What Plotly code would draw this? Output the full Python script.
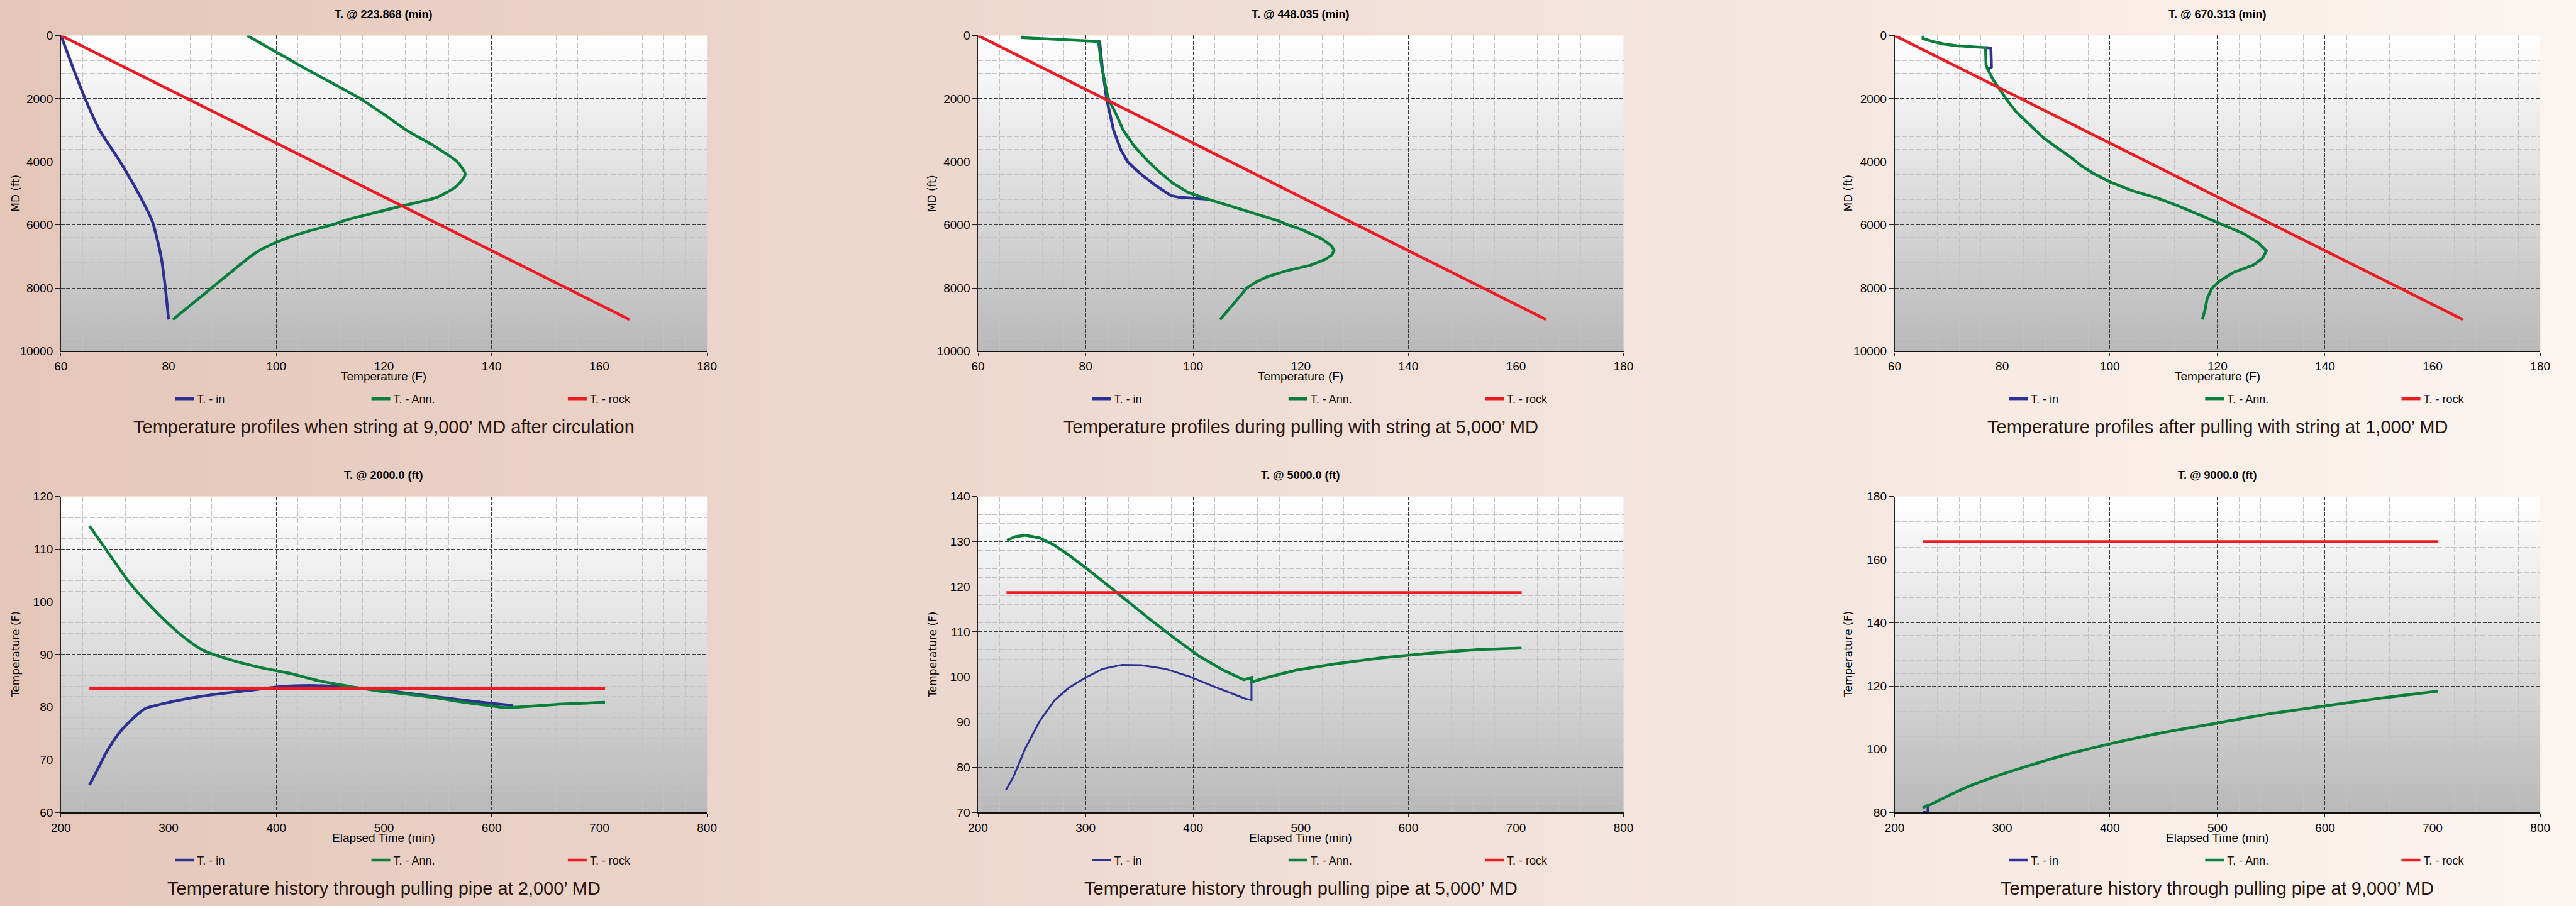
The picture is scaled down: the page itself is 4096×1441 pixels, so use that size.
import base64
import struct
import zlib
import plotly.graph_objects as go

# ---------------------------------------------------------------- data
# Top row: temperature (F) vs measured depth (ft)
P1_MD_IN = [0, 1000, 2000, 3000, 4000, 5000, 5900, 7000, 8000, 9000]
P1_T_IN = [60.0, 62.2, 64.5, 67.2, 71.0, 74.4, 77.0, 78.6, 79.4, 80.0]
P1_MD_ANN = [0, 1000, 2000, 2500, 3000, 3500, 4000, 4400, 4800, 5150, 5370, 5600,
             5830, 6000, 6200, 6400, 6600, 6800, 7000, 8000, 9000]
P1_T_ANN = [94.6, 104.9, 115.6, 120.0, 124.2, 129.3, 133.6, 135.1, 133.3, 129.5, 124.1, 118.7,
            113.3, 110.3, 106.0, 102.3, 99.4, 97.0, 95.2, 88.0, 80.8]

P2_MD_IN = [160, 1000, 2000, 3000, 3600, 4000, 4275, 4450, 4750, 5075, 5125, 5155, 5185]
P2_T_IN = [82.6, 83.1, 83.9, 85.2, 86.5, 87.8, 89.5, 90.7, 93.0, 95.9, 97.4, 100.0, 102.7]
P2_MD_ANN = [0, 70, 190, 1000, 2000, 2500, 3000, 3500, 4000, 4275, 4675, 4975, 5185, 5400,
             5650, 5875, 6000, 6150, 6450, 6650, 6800, 6950, 7100, 7280, 7460, 7650, 7830,
             8010, 8240, 8510, 9000]
P2_T_ANN = [68.3, 68.3, 82.4, 83.0, 84.2, 85.7, 87.0, 89.0, 91.7, 93.4, 96.2, 99.1, 102.7, 106.8,
            111.2, 115.9, 117.6, 120.2, 124.0, 125.6, 126.2, 125.8, 124.5, 121.8, 117.3, 113.7, 111.5,
            109.9, 108.8, 107.4, 105.0]

P3_MD_IN = [385, 395, 1000, 1065]
P3_T_IN = [76.9, 77.9, 78.0, 77.4]
P3_MD_ANN = [0, 100, 200, 275, 325, 365, 385, 925, 1075, 1425, 1650, 2025, 2418, 2873, 3236,
             3509, 3827, 4145, 4373, 4645, 4918, 5145, 5373, 5691, 5964, 6282, 6555, 6827,
             7055, 7282, 7509, 7782, 8009, 8327, 8691, 9000]
P3_T_ANN = [65.3, 65.3, 67.3, 69.3, 71.6, 74.6, 76.9, 77.0, 77.3, 78.4, 79.3, 80.8, 82.6, 85.3, 87.6,
            89.8, 92.5, 94.8, 97.0, 100.1, 104.2, 108.7, 112.3, 116.8, 120.4, 124.9, 127.5, 129.1,
            128.4, 126.6, 123.0, 120.4, 119.0, 118.1, 117.7, 117.2]

ROCK_MD = [0, 9000]
ROCK_T = [60.0, 165.6]

# Bottom row: temperature (F) vs elapsed time (min)
P4_TIME_IN = [226.5, 233.2, 242.2, 253.4, 264.6, 278.1, 296.0, 323.0, 349.9, 376.8, 403.7,
              430.7, 457.6, 484.5, 511.5, 547.3, 583.2, 620.0]
P4_T_IN = [65.2, 67.8, 71.4, 74.9, 77.4, 79.7, 80.7, 81.8, 82.6, 83.2, 83.9,
           84.1, 83.9, 83.5, 82.9, 82.0, 81.1, 80.3]
P4_TIME_ANN = [226.5, 239.9, 251.2, 264.6, 280.3, 300.5, 314.0, 331.9, 358.9, 385.8, 412.7,
               439.6, 466.6, 493.5, 520.4, 547.3, 574.3, 601.2, 612.4, 623.7, 659.5, 705.3]
P4_T_ANN = [114.4, 110.5, 107.2, 103.4, 99.8, 95.7, 93.3, 90.8, 88.9, 87.5, 86.4,
            85.0, 84.0, 83.1, 82.5, 81.8, 80.9, 80.2, 79.9, 80.0, 80.5, 80.9]
P4_TIME_ROCK = [226.5, 705.3]
P4_T_ROCK = [83.5, 83.5]

P5_TIME_IN = [226.0, 232.8, 244.0, 257.5, 271.0, 284.4, 300.2, 315.9, 333.9, 351.8, 374.3,
              396.7, 419.2, 437.1, 448.4, 454.2, 454.2]
P5_T_IN = [75.0, 77.8, 84.2, 90.3, 94.8, 97.6, 99.9, 101.8, 102.7, 102.6, 101.8,
           100.1, 97.9, 96.2, 95.2, 94.9, 99.9]
P5_TIME_ANN = [226.9, 235.0, 244.0, 257.5, 271.0, 284.4, 302.4, 320.4, 338.3, 360.8, 383.2,
               405.7, 428.1, 447.0, 454.2, 454.4, 468.6, 495.5, 531.4, 576.4, 621.3, 666.2, 705.2]
P5_T_ANN = [130.3, 131.1, 131.4, 130.8, 129.2, 127.0, 123.8, 120.3, 116.8, 112.6, 108.5,
            104.6, 101.5, 99.4, 99.9, 98.9, 99.9, 101.5, 102.9, 104.3, 105.3, 106.1, 106.4]
P5_TIME_ROCK = [226.5, 705.3]
P5_T_ROCK = [118.7, 118.7]

P6_TIME_IN = [226.3, 231.1, 231.1]
P6_T_IN = [80.0, 80.0, 82.0]
P6_TIME_ANN = [226.0, 230.4, 231.8, 240.6, 253.8, 268.5, 300.0, 350.0, 400.0, 450.0, 500.0,
               550.0, 600.0, 650.0, 705.2]
P6_T_ANN = [81.4, 82.2, 82.3, 83.7, 85.9, 88.2, 92.1, 97.4, 101.7, 105.3, 108.3,
            111.3, 113.7, 116.1, 118.4]
P6_TIME_ROCK = [226.5, 705.3]
P6_T_ROCK = [165.7, 165.7]

SERIES_NAMES = ["T. - in", "T. - Ann.", "T. - rock"]
TOP_TITLES = ["T. @ 223.868 (min)", "T. @ 448.035 (min)", "T. @ 670.313 (min)"]
BOTTOM_TITLES = ["T. @ 2000.0 (ft)", "T. @ 5000.0 (ft)", "T. @ 9000.0 (ft)"]
TOP_CAPTIONS = ["Temperature profiles when string at 9,000\u2019 MD after circulation",
                "Temperature profiles during pulling with string at 5,000\u2019 MD",
                "Temperature profiles after pulling with string at 1,000\u2019 MD"]
BOTTOM_CAPTIONS = ["Temperature history through pulling pipe at 2,000\u2019 MD",
                   "Temperature history through pulling pipe at 5,000\u2019 MD",
                   "Temperature history through pulling pipe at 9,000\u2019 MD"]
BOTTOM_Y_RANGES = [[60, 120], [70, 140], [80, 180]]
BOTTOM_Y_DTICK = [10, 10, 20]
BOTTOM_Y_MINOR = [2, 2, 4]

# ---------------------------------------------------------------- geometry
RW, RH = 5440.0, 1914.0          # reference size
W, H = 4096, 1441                # output size
S = W / RW

PLOT_LEFT = [128.6, 2065.3, 4001.0]
PLOT_RIGHT = [1493.0, 3428.6, 5364.5]
TOP_Y = (75.0, 741.7)
BOT_Y = (1048.8, 1716.3)
YTITLE_OFF = [95.0, 96.0, 97.5]

BLUE = "#2e3192"
GREEN = "#0a7f3d"
RED = "#ed1c24"
FONT = "Liberation Sans, Arial, Helvetica, sans-serif"
YFONT = "DejaVu Sans, Verdana, sans-serif"
CAPTION_COLOR = "#2b1711"

# which traces (panel, series) are drawn smoothed
SMOOTH = {(1, 0), (1, 1), (4, 0), (4, 1), (6, 1)}


def fx(v):
    return v / RW


def fy(v):
    return 1 - v / RH


def png_uri(rows):
    height = len(rows)
    width = len(rows[0])
    raw = b"".join(b"\x00" + bytes(c for p in row for c in p) for row in rows)

    def chunk(tag, data):
        body = tag + data
        return struct.pack(">I", len(data)) + body + struct.pack(">I", zlib.crc32(body) & 0xffffffff)

    png = (b"\x89PNG\r\n\x1a\n"
           + chunk(b"IHDR", struct.pack(">IIBBBBB", width, height, 8, 2, 0, 0, 0))
           + chunk(b"IDAT", zlib.compress(raw, 9))
           + chunk(b"IEND", b""))
    return "data:image/png;base64," + base64.b64encode(png).decode()


def lerp(a, b, t):
    return tuple(int(round(a[i] + (b[i] - a[i]) * t)) for i in range(3))


N = 256
paper_row = [lerp((229, 199, 186), (252, 245, 240), i / (N - 1)) for i in range(N)]
PAPER_IMG = png_uri([paper_row] * 4)
plot_rows = [[lerp((255, 255, 255), (185, 185, 185), j / (N - 1))] * 4 for j in range(N)]
PLOT_IMG = png_uri(plot_rows)

fig = go.Figure()

panels = [
    (P1_T_IN, P1_MD_IN, P1_T_ANN, P1_MD_ANN, ROCK_T, ROCK_MD),
    (P2_T_IN, P2_MD_IN, P2_T_ANN, P2_MD_ANN, ROCK_T, ROCK_MD),
    (P3_T_IN, P3_MD_IN, P3_T_ANN, P3_MD_ANN, ROCK_T, ROCK_MD),
    (P4_TIME_IN, P4_T_IN, P4_TIME_ANN, P4_T_ANN, P4_TIME_ROCK, P4_T_ROCK),
    (P5_TIME_IN, P5_T_IN, P5_TIME_ANN, P5_T_ANN, P5_TIME_ROCK, P5_T_ROCK),
    (P6_TIME_IN, P6_T_IN, P6_TIME_ANN, P6_T_ANN, P6_TIME_ROCK, P6_T_ROCK),
]

LW = 4.5
layout = {}
annotations = []
images = [dict(source=PAPER_IMG, xref="paper", yref="paper", x=0, y=1, sizex=1, sizey=1,
               sizing="stretch", xanchor="left", yanchor="top", layer="below")]

major_grid = dict(showgrid=True, gridcolor="#3a3a3a", gridwidth=1.4, griddash="6px,2.5px")


def minor_cfg(dtick, tick0):
    return dict(dtick=dtick, tick0=tick0, showgrid=True, gridcolor="#c2c2c2",
                gridwidth=1.2, griddash="8px,3.5px", ticks="")


tickfont = dict(family=FONT, size=19, color="#000000")

for k, (xa, ya, xb, yb, xc, yc) in enumerate(panels):
    idx = k + 1
    col = k % 3
    top = k < 3
    sfx = "" if idx == 1 else str(idx)
    xname, yname = "x" + sfx, "y" + sfx
    legname = "legend" + sfx
    blue_w = 3.0 if idx == 5 else LW
    for j, (xs, ys, color, name, w) in enumerate(((xa, ya, BLUE, SERIES_NAMES[0], blue_w),
                                                  (xb, yb, GREEN, SERIES_NAMES[1], LW),
                                                  (xc, yc, RED, SERIES_NAMES[2], LW))):
        shape = "spline" if (idx, j) in SMOOTH else "linear"
        fig.add_trace(go.Scatter(x=xs, y=ys, mode="lines", name=name,
                                 line=dict(color=color, width=w, shape=shape, smoothing=0.6),
                                 xaxis=xname, yaxis=yname, legend=legname))

    ytop, ybot = TOP_Y if top else BOT_Y
    xdom = [fx(PLOT_LEFT[col]), fx(PLOT_RIGHT[col])]
    ydom = [fy(ybot), fy(ytop)]

    if top:
        xr, xdt, xmin_dt, xt0 = [60, 180], 20, 4, 60
        yr, ydt, ymin_dt, yt0 = [10000, 0], 2000, 400, 0
    else:
        xr, xdt, xmin_dt, xt0 = [200, 800], 100, 20, 200
        yr = BOTTOM_Y_RANGES[col]
        ydt, ymin_dt, yt0 = BOTTOM_Y_DTICK[col], BOTTOM_Y_MINOR[col], BOTTOM_Y_RANGES[col][0]

    layout["xaxis" + sfx] = dict(
        domain=xdom, anchor=yname, range=xr, dtick=xdt, tick0=xt0, tickmode="linear",
        ticks="outside", ticklen=6, tickwidth=1.2, tickcolor="#222222",
        showline=True, linecolor="#111111", linewidth=2.2, zeroline=False,
        tickfont=tickfont, minor=minor_cfg(xmin_dt, xt0), fixedrange=True,
        automargin=False, **major_grid)
    layout["yaxis" + sfx] = dict(
        domain=ydom, anchor=xname, range=yr, dtick=ydt, tick0=yt0, tickmode="linear",
        ticks="outside", ticklen=7, tickwidth=1.2, tickcolor="#222222",
        showline=True, linecolor="#222222", linewidth=1.5, zeroline=False,
        tickformat="d", tickfont=tickfont, minor=minor_cfg(ymin_dt, yt0), fixedrange=True,
        automargin=False, **major_grid)

    images.append(dict(source=PLOT_IMG, xref=xname + " domain", yref=yname + " domain",
                       x=0, y=1, sizex=1, sizey=1, sizing="stretch",
                       xanchor="left", yanchor="top", layer="below"))

    xc_mid = (PLOT_LEFT[col] + PLOT_RIGHT[col]) / 2
    # panel title
    annotations.append(dict(text=(TOP_TITLES if top else BOTTOM_TITLES)[col],
                            x=fx(xc_mid), y=fy(ytop - 45), xref="paper", yref="paper",
                            showarrow=False, xanchor="center", yanchor="middle",
                            font=dict(family=FONT, size=18, color="#000000", weight="bold")))
    # x-axis title
    annotations.append(dict(text="Temperature (F)" if top else "Elapsed Time (min)",
                            x=fx(xc_mid), y=fy(ybot + 53.5), xref="paper", yref="paper",
                            showarrow=False, xanchor="center", yanchor="middle",
                            font=dict(family=FONT, size=19, color="#000000")))
    # y-axis title
    annotations.append(dict(text="MD (ft)" if top else "Temperature (F)",
                            x=fx(PLOT_LEFT[col] - YTITLE_OFF[col]), y=fy((ytop + ybot) / 2),
                            xref="paper", yref="paper", textangle=-90,
                            showarrow=False, xanchor="center", yanchor="middle",
                            font=dict(family=YFONT, size=17, color="#000000")))
    # caption
    annotations.append(dict(text=(TOP_CAPTIONS if top else BOTTOM_CAPTIONS)[col],
                            x=fx(xc_mid), y=fy(ybot + 160), xref="paper", yref="paper",
                            showarrow=False, xanchor="center", yanchor="middle",
                            font=dict(family=FONT, size=29, color=CAPTION_COLOR)))
    # legend
    line_start = (PLOT_LEFT[col] + 241.0) * S
    layout[legname] = dict(
        orientation="h", x=(line_start - 5) / W, xanchor="left", xref="paper",
        y=fy(ybot + 101), yanchor="middle", yref="paper",
        entrywidth=355 * S, entrywidthmode="pixels", bgcolor="rgba(0,0,0,0)",
        borderwidth=0, font=dict(family=FONT, size=18, color="#111111"),
        itemclick=False, itemdoubleclick=False)

fig.update_layout(
    width=W, height=H, autosize=False,
    margin=dict(l=0, r=0, t=0, b=0, pad=0, autoexpand=False),
    paper_bgcolor="#f0dfd5", plot_bgcolor="rgba(0,0,0,0)",
    showlegend=True, images=images, annotations=annotations,
    font=dict(family=FONT, size=19, color="#111111"),
    **layout)

fig.write_html("out.html", include_plotlyjs=True, full_html=True,
               config={"displayModeBar": False},
               post_script="document.body.style.margin='0';document.body.style.padding='0';"
                           "document.body.style.overflow='hidden';")
